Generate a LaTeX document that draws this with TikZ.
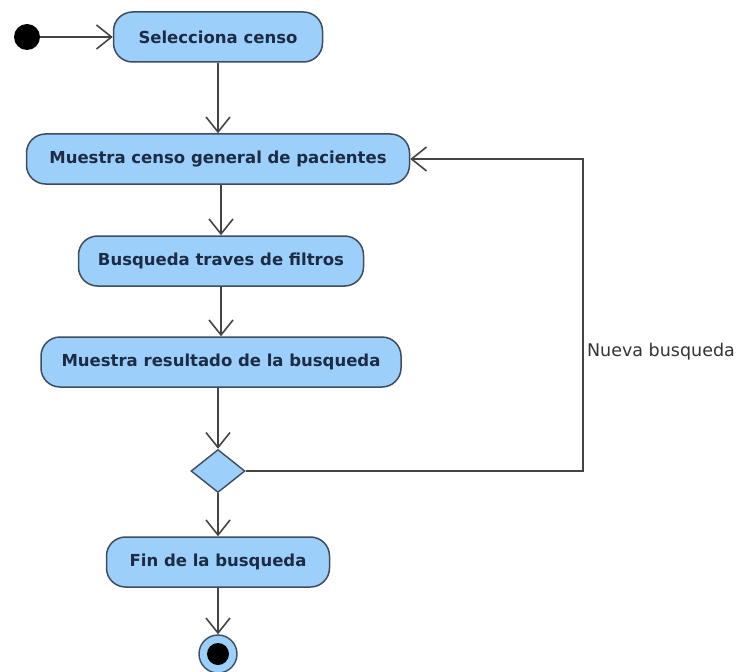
\documentclass[tikz,border=0pt]{standalone}
\usepackage{fontspec}
\setmainfont{DejaVu Sans}
\usetikzlibrary{positioning}
\usetikzlibrary{arrows.meta}
\usetikzlibrary{shapes.geometric}
\definecolor{actfill}{HTML}{9CCFFA}
\definecolor{actdraw}{HTML}{3E4C5E}
\definecolor{acttext}{HTML}{1C2C44}
\definecolor{lineclr}{HTML}{444444}
\tikzset{
	-{Straight Barb[length=15pt,width=24pt]},
	flow/.style={draw=lineclr, line width=1.6pt},
	activity/.style={rectangle, rounded corners=19pt, draw=actdraw, line width=1.5pt, fill=actfill, text=acttext, font=\bfseries\fontsize{16.5}{20}\selectfont, minimum height=50pt, inner sep=0pt},
	decision/.style={diamond, draw=actdraw, line width=1.4pt, fill=actfill, minimum width=54pt, minimum height=43pt, inner sep=0pt},
	initial/.style={circle, fill=black, minimum size=26pt, inner sep=0pt, node contents={}},
	final/.style={circle, draw=actdraw, line width=1.4pt, fill=actfill, minimum size=38pt, inner sep=0pt, node contents={}, path picture={\fill[black] (path picture bounding box.center) circle (11pt);}},
	guard/.style={right, text=black!80, font=\fontsize{17.5}{21}\selectfont}
}

\begin{document}
\begin{tikzpicture}[x=1pt, y=-1pt]
	\useasboundingbox (0,0) rectangle (751,671);

					\node (init) at (27,37) [initial];
					\node (sel) [activity, minimum width=209pt] at (218,37) {Selecciona censo};
					\node (mcg) [activity, minimum width=383pt] at (218,159) {Muestra censo general de pacientes};
					\node (btf) [activity, minimum width=285pt] at (221,261) {Busqueda traves de filtros};
					\node (mrb) [activity, minimum width=360pt] at (221,362) {Muestra resultado de la busqueda};
					\node (dec) [decision] at (218,471) {};
					\node (fdb) [activity, minimum width=223pt] at (218,562) {Fin de la busqueda};
					\node (fin) at (218,654) [final];
					\coordinate (loop) at (583,352);

					\path (init) edge[flow] (sel);
					\path (sel) edge[flow] (mcg);
					\path (mcg.south -| btf) edge[flow] (btf);
					\path (btf) edge[flow] (mrb);
					\path (mrb.south -| dec) edge[flow] (dec);
					\path (dec) edge[flow] (fdb);
					\path (fdb) edge[flow] (fin);
					\draw[flow] (dec) -| (loop) node[guard] {Nueva busqueda} |- (mcg);
				\end{tikzpicture}
\end{document}
